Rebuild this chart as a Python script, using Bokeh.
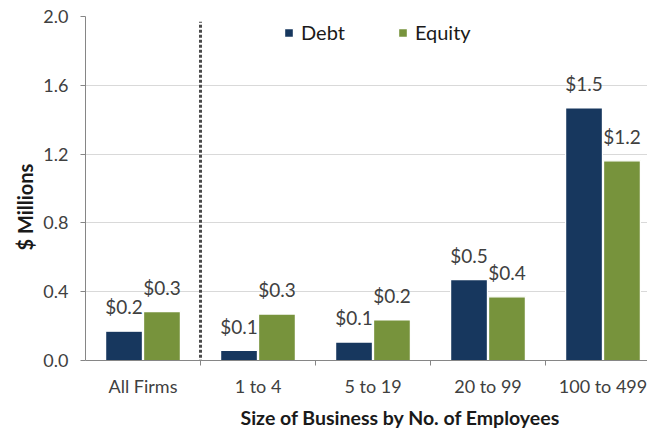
from bokeh.plotting import figure
from bokeh.models import (ColumnDataSource, FixedTicker, LabelSet, Legend, LegendItem,
                          Range1d, Title)
from bokeh.core.properties import value
from bokeh.transform import dodge
from bokeh.embed import file_html
from bokeh.resources import INLINE

categories = ["All Firms", "1 to 4", "5 to 19", "20 to 99", "100 to 499"]
debt = [0.17, 0.058, 0.107, 0.47, 1.468]
equity = [0.284, 0.27, 0.236, 0.37, 1.161]
y_ticks = [0.0, 0.4, 0.8, 1.2, 1.6, 2.0]

DEBT_C = "#17375E"
EQ_C = "#77933C"
FONT = "Lato"
TXT = "#404040"

xs = list(range(len(categories)))
src = ColumnDataSource(dict(
    x=xs,
    debt=debt,
    equity=equity,
    debt_lbl=[f"${v:.1f}" for v in debt],
    eq_lbl=[f"${v:.1f}" for v in equity],
))

p = figure(width=647, height=432, output_backend="svg", toolbar_location=None,
           x_range=Range1d(-0.5, 4.387), y_range=Range1d(0, 2.0),
           min_border_left=85, min_border_right=0, min_border_top=16, min_border_bottom=10)
p.outline_line_color = None
p.background_fill_color = "white"

bw = 0.32
r1 = p.vbar(x=dodge("x", -0.165), top="debt", width=bw, source=src, fill_color=DEBT_C,
            line_color="white", line_width=1.2)
r2 = p.vbar(x=dodge("x", 0.165), top="equity", width=bw, source=src, fill_color=EQ_C,
            line_color="white", line_width=1.2)

for fld, off, top in (("debt_lbl", -0.165, "debt"), ("eq_lbl", 0.165, "equity")):
    ls = LabelSet(x=dodge("x", off), y=top, text=fld, source=src, y_offset=17,
                  text_align="center", text_baseline="alphabetic",
                  text_font=value(FONT), text_font_size="19px", text_color=TXT)
    p.add_layout(ls)

# dotted separator
p.segment(x0=[0.5], y0=[-0.13], x1=[0.5], y1=[1.97], line_color="#4a4a4a",
          line_width=3, line_dash="3 2")

# axes
p.xgrid.grid_line_color = None
p.ygrid.grid_line_color = "#d9d9d9"
p.ygrid.ticker = FixedTicker(ticks=y_ticks)

p.yaxis.ticker = FixedTicker(ticks=y_ticks)
p.yaxis.major_label_overrides = {t: f"{t:.1f}" for t in y_ticks}
p.yaxis.minor_tick_line_color = None
p.yaxis.major_tick_out = 5
p.yaxis.major_tick_in = 0
p.yaxis.axis_line_color = "#868686"
p.yaxis.major_tick_line_color = "#868686"
p.yaxis.major_label_text_font = FONT
p.yaxis.major_label_text_font_size = "18px"
p.yaxis.major_label_text_color = TXT
p.yaxis.major_label_standoff = 12

p.xaxis.ticker = FixedTicker(ticks=xs, minor_ticks=[0.5, 1.5, 2.5, 3.5])
p.xaxis.major_label_overrides = {i: c for i, c in enumerate(categories)}
p.xaxis.major_tick_line_color = None
p.xaxis.minor_tick_out = 5
p.xaxis.minor_tick_in = 0
p.xaxis.minor_tick_line_color = "#868686"
p.xaxis.axis_line_color = "#868686"
p.xaxis.major_label_text_font = FONT
p.xaxis.major_label_text_font_size = "18px"
p.xaxis.major_label_text_color = TXT
p.xaxis.major_label_standoff = 8

p.add_layout(Title(text="Size of Business by No. of Employees", align="left", offset=155,
                   text_font=FONT, text_font_size="19.5px", text_font_style="bold",
                   text_color="#1a1a1a", standoff=8), "below")
p.add_layout(Title(text="$ Millions", align="left", offset=110,
                   text_font=FONT, text_font_size="20px", text_font_style="bold",
                   text_color="#1a1a1a", standoff=8), "left")

legend = Legend(items=[LegendItem(label="Debt", renderers=[r1]),
                       LegendItem(label="Equity", renderers=[r2])],
                orientation="horizontal", location=(198, 316),
                padding=0, margin=0, spacing=52, label_standoff=7,
                glyph_width=11, glyph_height=11,
                label_text_font=FONT, label_text_font_size="20px", label_text_color="#1a1a1a",
                border_line_color=None, background_fill_alpha=0)
p.add_layout(legend)

open("out.html", "w").write(file_html(p, INLINE))
